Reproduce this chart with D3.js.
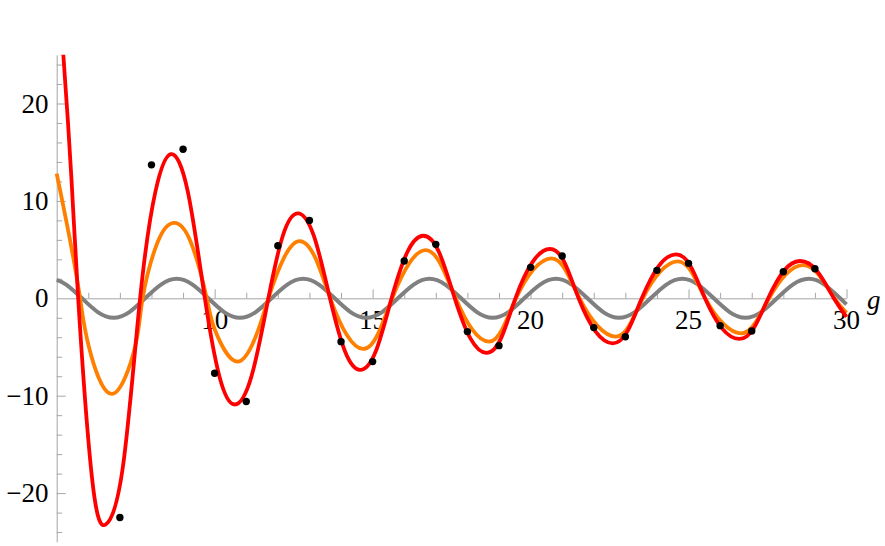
<!DOCTYPE html>
<html><head><meta charset="utf-8">
<script src="https://cdn.jsdelivr.net/npm/d3@7"></script>
<style>body{margin:0;background:#fff}svg{display:block}</style>
</head><body><svg id="c" width="885" height="546"></svg>
<script>
// ---- data ----
const xMajorTicks = [10, 15, 20, 25, 30];
const xMinorTicks = [6,7,8,9,11,12,13,14,16,17,18,19,21,22,23,24,26,27,28,29];
const yMajorTicks = [-20, -10, 0, 10, 20];
const yMinorTicks = [-24,-22,-18,-16,-14,-12,-8,-6,-4,-2,2,4,6,8,12,14,16,18,22,24];
const xTickLabels = ["10", "15", "20", "25", "30"];
const yTickLabels = ["\u221220", "\u221210", "0", "10", "20"];
const axisLabel = "g";

const grayCurve = [[5,1.9],[5.3,1.41],[5.8,0],[6.3,-1.41],[6.8,-2],[7.3,-1.41],[7.8,0],[8.3,1.41],[8.8,2],[9.3,1.41],[9.8,0],[10.3,-1.41],[10.8,-2],[11.3,-1.41],[11.8,0],[12.3,1.41],[12.8,2],[13.3,1.41],[13.8,0],[14.3,-1.41],[14.8,-2],[15.3,-1.41],[15.8,0],[16.3,1.41],[16.8,2],[17.3,1.41],[17.8,0],[18.3,-1.41],[18.8,-2],[19.3,-1.41],[19.8,0],[20.3,1.41],[20.8,2],[21.3,1.41],[21.8,0],[22.3,-1.41],[22.8,-2],[23.3,-1.41],[23.8,0],[24.3,1.41],[24.8,2],[25.3,1.41],[25.8,0],[26.3,-1.41],[26.8,-2],[27.3,-1.41],[27.8,0],[28.3,1.41],[28.8,2],[29.3,1.41],[29.8,0],[30,-0.62]];

const orangeCurve = [[5.0,12.8],[5.42,6.0],[5.74,0],[6.02,-5.0],[6.74,-9.82],[7.48,-5.0],[7.72,0],[8.2,5.8],[8.71,7.75],[9.24,5.8],[9.75,0],[10.01,-3.25],[10.72,-6.5],[11.38,-3.25],[11.70,0],[12.2,4.2],[12.70,5.88],[13.18,4.2],[13.66,0],[14.18,-3.75],[14.70,-5.2],[15.16,-3.72],[15.62,0],[16.15,3.55],[16.68,4.95],[17.15,3.52],[17.63,0],[18.15,-3.2],[18.68,-4.45],[19.1,-3.18],[19.54,0],[20.09,2.95],[20.66,4.1],[21.1,2.93],[21.55,0],[22.12,-2.83],[22.7,-3.94],[23.12,-2.82],[23.55,0],[24.1,2.73],[24.66,3.8],[25.09,2.72],[25.53,0],[26.09,-2.58],[26.66,-3.6],[27.1,-2.57],[27.55,0],[28.08,2.44],[28.62,3.4],[29.12,2.42],[29.62,0],[30,-1.5]];

const redCurve = [[5.0,33],[5.21,25],[5.47,12.1],[5.68,0],[6.12,-18.5],[6.56,-23.2],[7.1,-17.2],[7.64,0],[8.125,10.95],[8.61,14.8],[9.15,10.95],[9.69,0],[10.155,-8.07],[10.62,-10.9],[11.16,-8.07],[11.70,0],[12.16,6.45],[12.62,8.72],[13.135,6.45],[13.65,0],[14.125,-5.44],[14.60,-7.35],[15.1,-5.44],[15.60,0],[16.1,4.75],[16.60,6.42],[17.1,4.75],[17.60,0],[18.1,-4.14],[18.60,-5.6],[19.06,-4.14],[19.52,0],[20.065,3.74],[20.61,5.06],[21.065,3.74],[21.52,0],[22.06,-3.42],[22.60,-4.62],[23.06,-3.42],[23.52,0],[24.06,3.33],[24.60,4.5],[25.06,3.33],[25.52,0],[26.06,-3.09],[26.60,-4.17],[27.06,-3.09],[27.52,0],[28.02,2.83],[28.52,3.83],[29.06,2.83],[29.6,0],[30,-1.9]];

const dotX = [7,8,9,10,11,12,13,14,15,16,17,18,19,20,21,22,23,24,25,26,27,28,29];
const dotY = [-22.5,13.7,15.3,-7.7,-10.6,5.4,8.0,-4.45,-6.5,3.83,5.54,-3.42,-4.86,3.18,4.34,-3.01,-3.94,2.87,3.59,-2.81,-3.35,2.73,3.04];

// ---- drawing ----
const svg = d3.select("#c");
const x = d3.scaleLinear().domain([5, 30]).range([56.7, 846.5]);
const y = d3.scaleLinear().domain([-25, 25]).range([541.8, 54.8]);
const axisColor = "#a6a6a6";
const font = "'Liberation Serif', 'Times New Roman', serif";

// tick labels (under the curves)
svg.append("g").selectAll("text").data(xMajorTicks).join("text")
  .attr("x", d => x(d)).attr("y", y(0) + 30.2)
  .attr("text-anchor", "middle").attr("font-family", font).attr("font-size", 27)
  .attr("fill", "#000").text((d, i) => xTickLabels[i]);
svg.append("g").selectAll("text").data(yMajorTicks).join("text")
  .attr("x", 48.5).attr("y", d => y(d) + 9)
  .attr("text-anchor", "end").attr("font-family", font).attr("font-size", 27)
  .attr("fill", "#000").text((d, i) => yTickLabels[i]);
svg.append("text").attr("x", 867).attr("y", y(0) + 10.5)
  .attr("font-family", font).attr("font-style", "italic").attr("font-size", 27)
  .attr("fill", "#000").text(axisLabel);

// axes
function styleAxis(g) {
  g.selectAll("path,line").attr("stroke", axisColor).attr("stroke-width", 1);
  g.selectAll("text").remove();
}
const gx = svg.append("g").attr("transform", `translate(0,${y(0)})`);
gx.append("g").call(d3.axisTop(x).tickValues(xMajorTicks).tickSize(9).tickSizeOuter(0).tickFormat("")).call(styleAxis);
gx.append("g").call(d3.axisTop(x).tickValues(xMinorTicks).tickSize(5.5).tickSizeOuter(0).tickFormat("")).call(g => { styleAxis(g); g.select(".domain").remove(); });
const gy = svg.append("g").attr("transform", `translate(${x(5)},0)`);
gy.append("g").call(d3.axisRight(y).tickValues(yMajorTicks.filter(d => d !== 0)).tickSize(9).tickSizeOuter(0).tickFormat("")).call(styleAxis);
gy.append("g").call(d3.axisRight(y).tickValues(yMinorTicks).tickSize(5.5).tickSizeOuter(0).tickFormat("")).call(g => { styleAxis(g); g.select(".domain").remove(); });

// clip
svg.append("defs").append("clipPath").attr("id", "clip").append("rect")
  .attr("x", x(5) - 4).attr("y", y(25)).attr("width", x(30) - x(5) + 8).attr("height", y(-25) - y(25));

const plot = svg.append("g").attr("clip-path", "url(#clip)");
const lineNat = d3.line().x(d => x(d[0])).y(d => y(d[1])).curve(d3.curveNatural);

plot.append("path").attr("d", lineNat(grayCurve)).attr("fill", "none").attr("stroke", "#808080").attr("stroke-width", 4);
plot.append("path").attr("d", lineNat(orangeCurve)).attr("fill", "none").attr("stroke", "#ff8000").attr("stroke-width", 3.8);
plot.append("path").attr("d", lineNat(redCurve)).attr("fill", "none").attr("stroke", "#ff0000").attr("stroke-width", 3.8);

svg.append("g").selectAll("circle").data(dotX).join("circle")
  .attr("cx", d => x(d)).attr("cy", (d, i) => y(dotY[i])).attr("r", 3.7).attr("fill", "#000");
</script>
</body></html>
